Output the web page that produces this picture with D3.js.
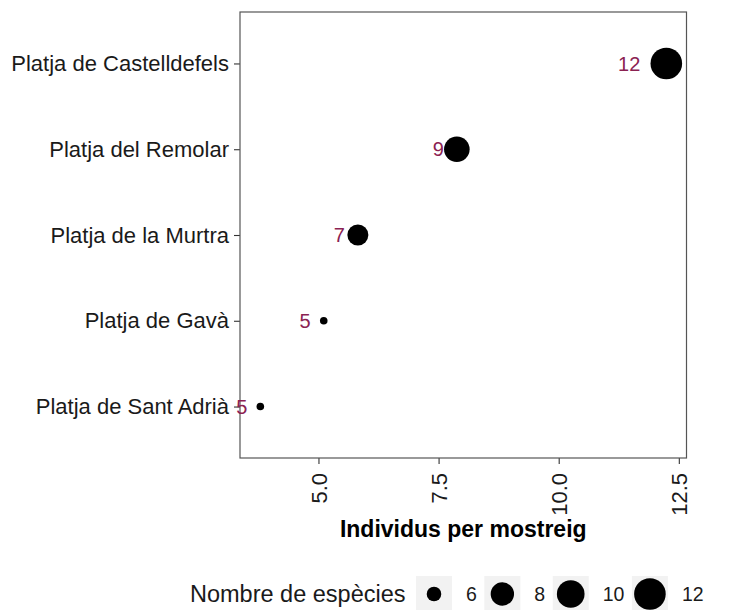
<!DOCTYPE html>
<html>
<head>
<meta charset="utf-8">
<script src="https://cdn.jsdelivr.net/npm/d3@7/dist/d3.min.js"></script>
<style>
  body { margin: 0; background: #fff; }
  svg { display: block; font-family: "Liberation Sans", Arial, sans-serif; }
</style>
</head>
<body>
<svg id="chart" width="734" height="610"></svg>
<script>
// ---- data ----
const beaches = ["Platja de Sant Adrià", "Platja de Gavà", "Platja de la Murtra", "Platja del Remolar", "Platja de Castelldefels"];
const individus = [3.79, 5.11, 5.82, 7.88, 12.24];
const especies = [5, 5, 7, 9, 12];
const xTicks = [5.0, 7.5, 10.0, 12.5];
const legendBreaks = [6, 8, 10, 12];
const xTitle = "Individus per mostreig";
const legendTitle = "Nombre de espècies";

const svg = d3.select("#chart");
const P = { left: 240, right: 686.5, top: 12, bottom: 458 };

const x = d3.scaleLinear()
  .domain([3.367, 12.66])
  .range([P.left, P.right]);

const y = d3.scalePoint()
  .domain(beaches.slice().reverse())
  .range([P.top, P.bottom])
  .padding(0.6);

const r = d3.scaleSqrt().domain([5, 7, 12]).range([3.8, 10.5, 15.8]);

const data = beaches.map((b, i) => ({ b, v: individus[i], n: especies[i] }));

// axes
const xAxis = svg.append("g")
  .attr("transform", `translate(0,${P.bottom})`)
  .call(d3.axisBottom(x).tickValues(xTicks).tickFormat(d3.format(".1f")).tickSize(6).tickPadding(4));
xAxis.select(".domain").remove();
xAxis.selectAll("line").attr("stroke", "#333").attr("stroke-width", 1.1);
xAxis.selectAll("text")
  .attr("font-size", 22)
  .attr("fill", "#1a1a1a")
  .attr("transform", "rotate(-90)")
  .attr("text-anchor", "end")
  .attr("dy", "0.35em")
  .attr("x", -15)
  .attr("y", 0);

const yAxis = svg.append("g")
  .attr("transform", `translate(${P.left},0)`)
  .call(d3.axisLeft(y).tickSize(6).tickPadding(5));
yAxis.select(".domain").remove();
yAxis.selectAll("line").attr("stroke", "#333").attr("stroke-width", 1.1);
yAxis.selectAll("text").attr("font-size", 22).attr("fill", "#1a1a1a");

// panel border
svg.append("rect")
  .attr("x", P.left).attr("y", P.top)
  .attr("width", P.right - P.left).attr("height", P.bottom - P.top)
  .attr("fill", "none").attr("stroke", "#555").attr("stroke-width", 1.2);

// points
svg.append("g").selectAll("circle")
  .data(data).join("circle")
  .attr("cx", d => x(d.v))
  .attr("cy", d => y(d.b))
  .attr("r", d => r(d.n))
  .attr("fill", "#000");

// labels
svg.append("g").selectAll("text")
  .data(data).join("text")
  .attr("x", d => x(d.v) - 13 * String(d.n).length)
  .attr("y", d => y(d.b))
  .attr("dy", "0.36em")
  .attr("text-anchor", "end")
  .attr("font-size", 20)
  .attr("fill", "#8b2252")
  .text(d => d.n);

// x title
svg.append("text")
  .attr("x", (P.left + P.right) / 2)
  .attr("y", 537)
  .attr("text-anchor", "middle")
  .attr("font-size", 23)
  .attr("font-weight", "bold")
  .attr("fill", "#000")
  .text(xTitle);

// legend
const lg = svg.append("g");
const legY = 576, keyW = 36, keyH = 36;
lg.append("text")
  .attr("x", 190).attr("y", legY + keyH / 2)
  .attr("dy", "0.36em")
  .attr("font-size", 23.5)
  .attr("fill", "#1a1a1a")
  .text(legendTitle);
let cx = 416;
legendBreaks.forEach(b => {
  lg.append("rect").attr("x", cx).attr("y", legY).attr("width", keyW).attr("height", keyH).attr("fill", "#f2f2f2");
  lg.append("circle").attr("cx", cx + keyW / 2).attr("cy", legY + keyH / 2).attr("r", r(b)).attr("fill", "#000");
  const t = lg.append("text")
    .attr("x", cx + keyW + 14).attr("y", legY + keyH / 2)
    .attr("dy", "0.36em")
    .attr("font-size", 19.5)
    .attr("fill", "#1a1a1a")
    .text(b);
  cx += keyW + 14 + t.node().getComputedTextLength() + 7.5;
});
</script>
</body>
</html>
